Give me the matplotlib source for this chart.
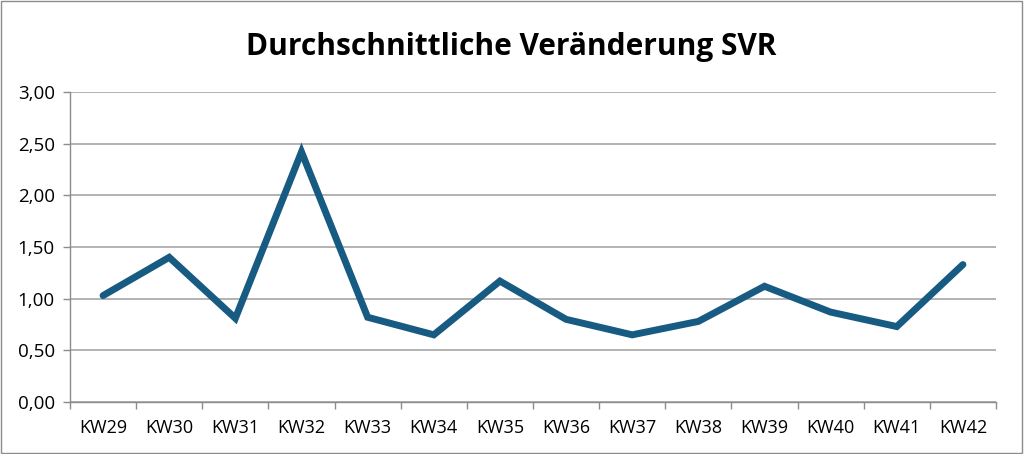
import matplotlib.pyplot as plt
from matplotlib.patches import Rectangle
import numpy as np

# Daten
wochen = ['KW29', 'KW30', 'KW31', 'KW32', 'KW33', 'KW34', 'KW35',
          'KW36', 'KW37', 'KW38', 'KW39', 'KW40', 'KW41', 'KW42']
werte = [1.03, 1.40, 0.81, 2.42, 0.82, 0.65, 1.17,
         0.80, 0.65, 0.78, 1.12, 0.87, 0.73, 1.33]
y_ticks = [0.0, 0.5, 1.0, 1.5, 2.0, 2.5, 3.0]

plt.rcParams['font.family'] = ['Open Sans', 'DejaVu Sans']

fig = plt.figure(figsize=(10.24, 4.54), dpi=100)
ax = fig.add_axes([70 / 1024, 1 - 402 / 454, 926 / 1024, 310 / 454])

x = np.arange(len(wochen))
ax.plot(x, werte, color='#175b83', linewidth=5, solid_capstyle='round',
        solid_joinstyle='miter', zorder=3)

ax.set_xlim(-0.5, len(wochen) - 0.5)
ax.set_ylim(0, 3)
ax.set_yticks(y_ticks)
ax.set_yticklabels([f"{v:.2f}".replace('.', ',') for v in y_ticks], fontsize=13.5)
ax.set_xticks(x)
ax.set_xticklabels(wochen, fontsize=13)
ax.set_xticks(np.arange(-0.5, len(wochen)), minor=True)
ax.tick_params(axis='x', which='major', length=0, pad=12)
ax.tick_params(axis='x', which='minor', length=5, color='#8c8c8c', width=1)
ax.tick_params(axis='y', length=5, color='#8c8c8c', width=1, pad=6)

ax.grid(axis='y', color='#a6a6a6', linewidth=1.2)
ax.set_axisbelow(True)
for s in ['top', 'right']:
    ax.spines[s].set_visible(False)
for s in ['left', 'bottom']:
    ax.spines[s].set_color('#8c8c8c')
    ax.spines[s].set_linewidth(1)

fig.text(511 / 1024, 1 - 47 / 454, 'Durchschnittliche Veränderung SVR',
         ha='center', va='center', fontsize=21.5, fontweight='bold')

# Rahmen um das Diagramm
fig.patches.append(Rectangle((0.001, 0.002), 0.997, 0.996, transform=fig.transFigure,
                             fill=False, edgecolor='#8c8c8c', linewidth=1))

fig.savefig('out.png', dpi=100)
